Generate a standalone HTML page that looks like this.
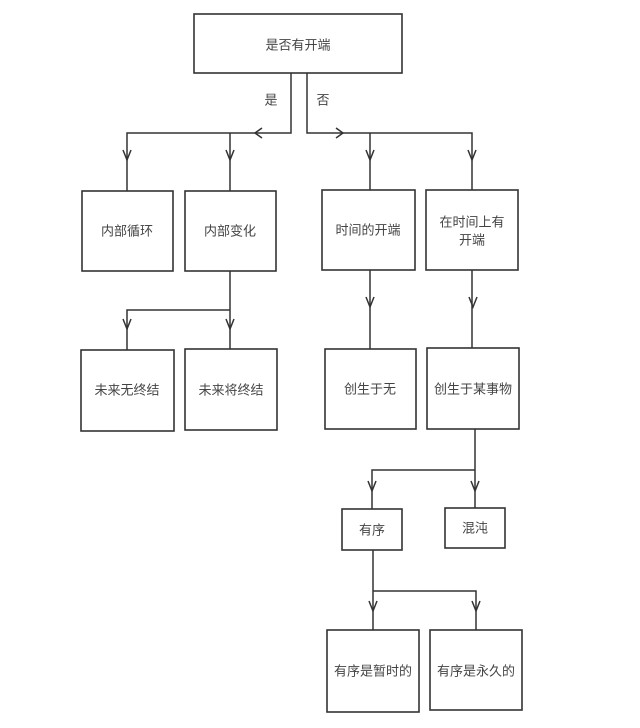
<!DOCTYPE html>
<html><head><meta charset="utf-8"><style>
html,body{margin:0;padding:0;background:#fff;}
svg{display:block;}
text{font-family:"Liberation Sans","Noto Sans CJK SC",sans-serif;font-size:13px;fill:#444;text-anchor:middle;dominant-baseline:central;}
.b{fill:#fff;stroke:#333;stroke-width:1.6;}
.l{fill:none;stroke:#333;stroke-width:1.5;}
</style></head><body>
<svg width="640" height="728" viewBox="0 0 640 728">
<!-- top box -->
<rect class="b" x="194" y="14" width="208" height="59"/>
<text x="298" y="45">是否有开端</text>
<text x="271" y="100">是</text>
<text x="323" y="100">否</text>
<!-- top branches -->
<path class="l" d="M291 73 V133 H127 V191 M230 133 V191 M307 73 V133 H472 V190 M370 133 V190"/>
<path class="l" d="M262 128 L255 133 L262 138 M336 128 L343 133 L336 138"/>
<path class="l" d="M123 150 L127 160 L131 150 M226 150 L230 160 L234 150 M366 150 L370 160 L374 150 M468 150 L472 160 L476 150"/>
<!-- row1 -->
<rect class="b" x="82" y="191" width="91" height="80"/><text x="127" y="231">内部循环</text>
<rect class="b" x="185" y="191" width="91" height="80"/><text x="230" y="231">内部变化</text>
<rect class="b" x="322" y="190" width="93" height="80"/><text x="368" y="230">时间的开端</text>
<rect class="b" x="426" y="190" width="92" height="80"/><text x="472" y="222">在时间上有</text><text x="472" y="240">开端</text>
<!-- row1 to row2 -->
<path class="l" d="M230 271 V349 M230 310 H127 V350 M370 270 V349 M472 270 V348"/>
<path class="l" d="M123 319 L127 329 L131 319 M226 319 L230 329 L234 319 M366 297 L370 307 L374 297 M469 297 L473 307 L477 297"/>
<!-- row2 -->
<rect class="b" x="81" y="350" width="93" height="81"/><text x="127" y="390">未来无终结</text>
<rect class="b" x="185" y="349" width="92" height="81"/><text x="231" y="390">未来将终结</text>
<rect class="b" x="325" y="349" width="91" height="80"/><text x="370" y="389">创生于无</text>
<rect class="b" x="427" y="348" width="92" height="81"/><text x="473" y="389">创生于某事物</text>
<!-- to 有序/混沌 -->
<path class="l" d="M475 429 V508 M475 470 H372 V509"/>
<path class="l" d="M368 481 L372 491 L376 481 M471 481 L475 491 L479 481"/>
<rect class="b" x="342" y="509" width="60" height="41"/><text x="372" y="530">有序</text>
<rect class="b" x="445" y="508" width="60" height="40"/><text x="475" y="528">混沌</text>
<!-- to bottom -->
<path class="l" d="M373 550 V630 M373 591 H476 V630"/>
<path class="l" d="M369 601 L373 611 L377 601 M472 601 L476 611 L480 601"/>
<rect class="b" x="327" y="630" width="92" height="82"/><text x="373" y="671">有序是暂时的</text>
<rect class="b" x="430" y="630" width="92" height="80"/><text x="476" y="671">有序是永久的</text>
</svg>
</body></html>
